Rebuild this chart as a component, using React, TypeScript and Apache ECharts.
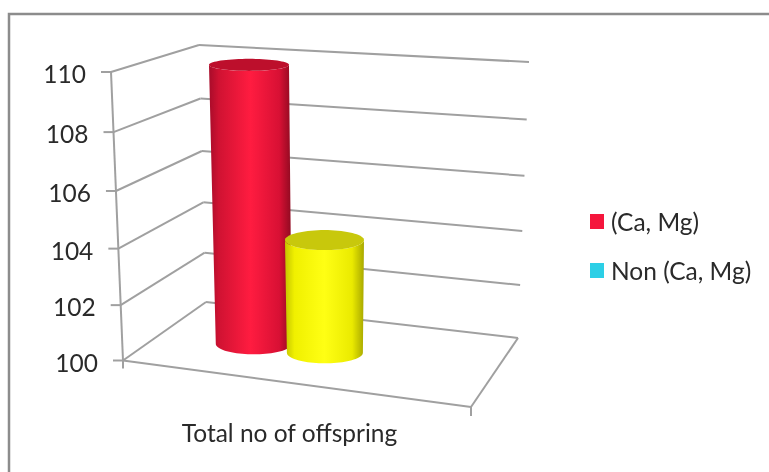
import React, { useEffect, useRef } from "react";
import * as echarts from "echarts";

const categories = ["Total no of offspring"];
const yTicks = [100, 102, 104, 106, 108, 110];
const caMgValues = [110];
const nonCaMgValues = [104.1];
const seriesNames = ["(Ca, Mg)", "Non (Ca, Mg)"];

type P = [number, number];
const FONT = "Lato, 'Open Sans', sans-serif";
const GRID = "#a0a0a0";
const TEXT = "#2a2a2a";
const FONT_SIZE = 24.5;
// Box corners of the 3D frame on screen
const FL0: P = [123, 360.5], FR0: P = [471, 407], BL0: P = [206, 302], BR0: P = [518, 338];
const FL1: P = [111, 72], FR1: P = [476, 97], BL1: P = [199, 45], BR1: P = [529, 62];

const lerp = (a: P, b: P, k: number): P => [a[0] + (b[0] - a[0]) * k, a[1] + (b[1] - a[1]) * k];
const warp = (t: number) => (0.95 * t) / (1 - 0.05 * t);
const project = (u: number, v: number, t: number): P => {
  const s = warp(t);
  const f = lerp(lerp(FL0, FL1, s), lerp(FR0, FR1, s), u);
  const b = lerp(lerp(BL0, BL1, s), lerp(BR0, BR1, s), u);
  return lerp(f, b, v);
};
const fraction = (api: any, params: any, value: number) => {
  const cs = params.coordSys;
  return (cs.y + cs.height - api.coord([0, value])[1]) / cs.height;
};

const line = (a: P, b: P, width = 2, color = GRID) => ({
  type: "line",
  shape: { x1: a[0], y1: a[1], x2: b[0], y2: b[1] },
  style: { stroke: color, lineWidth: width },
  silent: true,
});

const renderWall = (params: any, api: any) => {
  const value = api.value(1);
  const t = fraction(api, params, value);
  const s = warp(t);
  const f = lerp(FL0, FL1, s), b = lerp(BL0, BL1, s), r = lerp(BR0, BR1, s);
  const children: any[] = [
    line(f, b),
    line(b, r),
    line([f[0] - 10, f[1]], f),
    {
      type: "text",
      style: {
        text: String(value), x: f[0] - 25, y: f[1] + 1.5, align: "right", verticalAlign: "middle",
        textAlign: "right", textVerticalAlign: "middle", font: `${FONT_SIZE}px ${FONT}`, fill: TEXT,
      },
    },
  ];
  if (params.dataIndex === 0) {
    children.push(line(FL0, FL1), line(FL0, FR0), line(FR0, BR0),
      line(FL0, [FL0[0], FL0[1] + 8]), line(FR0, [FR0[0], FR0[1] + 9]));
  }
  return { type: "group", children };
};

const radiusY = (y: number) => (y < 240 ? 6 + (y - 64) / 44 : 10 + (y - 240) / 200);
const radiusX = (t: number) => {
  const s = warp(t);
  return s < 0.39 ? 38 + (1.5 * s) / 0.39 : 39.5 + (0.5 * (s - 0.39)) / 0.61;
};

const ellipsePoints = (c: P, rx: number, ry: number, from: number, to: number, n = 40): P[] => {
  const out: P[] = [];
  for (let i = 0; i <= n; i++) {
    const a = from + ((to - from) * i) / n;
    out.push([c[0] + rx * Math.cos(a), c[1] + ry * Math.sin(a)]);
  }
  return out;
};

const cylinder = (u: number, v: number, side: string[], top: string) => (params: any, api: any) => {
  const t = fraction(api, params, api.value(1));
  const base = project(u, v, 0);
  const head = project(u, v, t);
  const rb = radiusX(0), rt = radiusX(t);
  const body = [
    ...ellipsePoints(base, rb, radiusY(base[1]), Math.PI, 0),
    ...ellipsePoints(head, rt, radiusY(head[1]), 0, Math.PI),
  ];
  const stops = side.map((color, i) => ({ offset: [0, 0.12, 0.5, 0.85, 1][i], color }));
  return {
    type: "group",
    children: [
      {
        type: "polygon",
        shape: { points: body },
        style: { fill: new echarts.graphic.LinearGradient(0, 0, 1, 0, stops) },
      },
      {
        type: "polygon",
        shape: { points: ellipsePoints(head, rt, radiusY(head[1]), 0, 2 * Math.PI, 72) },
        style: { fill: top },
      },
    ],
  };
};

export default function App() {
  const ref = useRef<HTMLDivElement>(null);
  useEffect(() => {
    const chart = echarts.init(ref.current!, undefined, { renderer: "svg" });
    chart.setOption({
      animation: false,
      backgroundColor: "#ffffff",
      grid: { left: FL0[0], top: FL1[1], width: 333, height: FL0[1] - FL1[1] },
      xAxis: {
        type: "category",
        data: categories,
        axisLine: { show: false },
        axisTick: { show: false },
        splitLine: { show: false },
        axisLabel: { margin: 59, fontSize: FONT_SIZE, fontFamily: FONT, color: TEXT },
      },
      yAxis: { type: "value", min: 100, max: 110, interval: 2, show: false },
      legend: {
        orient: "vertical",
        left: 590,
        top: 209,
        padding: 0,
        itemWidth: 14,
        itemHeight: 15,
        itemGap: 24,
        icon: "rect",
        selectedMode: false,
        data: seriesNames,
        textStyle: { fontSize: FONT_SIZE, fontFamily: FONT, color: TEXT, padding: [0, 0, 0, 2] },
      },
      graphic: [
        {
          type: "polyline",
          shape: { points: [[9, 472], [9, 14], [769, 14]] },
          style: { stroke: "#8c8c8c", lineWidth: 2.5, fill: "none" },
          silent: true,
        },
      ],
      series: [
        {
          type: "custom",
          coordinateSystem: "cartesian2d",
          silent: true,
          clip: false,
          encode: { x: 0, y: 1 },
          renderItem: renderWall,
          data: yTicks.map((v) => [0, v]),
        },
        {
          type: "custom",
          name: seriesNames[0],
          coordinateSystem: "cartesian2d",
          silent: true,
          clip: false,
          encode: { x: 0, y: 1 },
          itemStyle: { color: "#f5163c" },
          renderItem: cylinder(0.275, 0.48, ["#a80c2a", "#d01232", "#ff1c40", "#d81034", "#8c0a20"], "#bd0f2c"),
          data: caMgValues.map((v) => [0, v]),
        },
        {
          type: "custom",
          name: seriesNames[1],
          coordinateSystem: "cartesian2d",
          silent: true,
          clip: false,
          encode: { x: 0, y: 1 },
          itemStyle: { color: "#2ccfe6" },
          renderItem: cylinder(0.49, 0.48, ["#c4c400", "#f0f000", "#ffff14", "#eaea00", "#a8a800"], "#c8c80c"),
          data: nonCaMgValues.map((v) => [0, v]),
        },
      ],
    });
    return () => chart.dispose();
  }, []);
  return (
    <div
      ref={ref}
      style={{ position: "absolute", left: 0, top: 0, width: 769, height: 472, filter: "blur(0.4px)" }}
    />
  );
}
